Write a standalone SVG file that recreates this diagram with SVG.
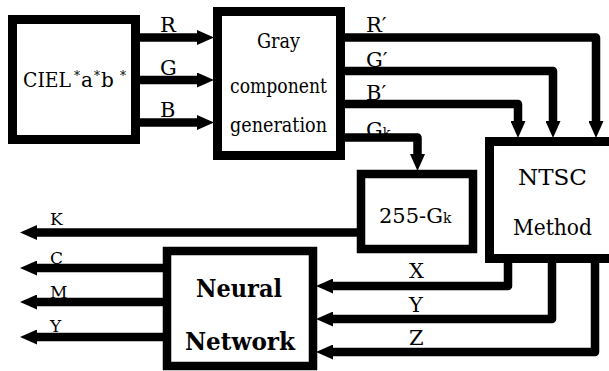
<svg xmlns="http://www.w3.org/2000/svg" width="609" height="371" viewBox="0 0 609 371">
<style>
  .box{fill:#fff;stroke:#000;stroke-width:9}
  text{font-family:'DejaVu Serif',serif;fill:#000}
  .lbl{font-size:21px}
  .sm{font-size:17px}
  .ln{fill:none;stroke:#000;stroke-width:8.5;stroke-linejoin:round;marker-end:url(#ah)}
</style>
<defs>
  <marker id="ah" markerUnits="userSpaceOnUse" markerWidth="17" markerHeight="15" viewBox="0 0 17 15" refX="3" refY="7.5" orient="auto">
    <path d="M0,0 L17,7.5 L0,15 Z" fill="#000"/>
  </marker>
</defs>
<rect width="609" height="371" fill="#fff"/>
<g id="cielab">
  <rect class="box" x="12.5" y="19.5" width="123" height="120"/>
  <text font-family="DejaVu Serif" font-size="20" x="23" y="87" textLength="48" lengthAdjust="spacingAndGlyphs">CIEL</text>
  <text font-family="DejaVu Serif" font-size="12" x="74" y="80">*</text>
  <text font-family="DejaVu Serif" font-size="20" x="81" y="87">a</text>
  <text font-family="DejaVu Serif" font-size="12" x="94" y="80">*</text>
  <text font-family="DejaVu Serif" font-size="20" x="101" y="87">b</text>
  <text font-family="DejaVu Serif" font-size="12" x="120" y="80">*</text>
</g>
<g id="gray">
  <rect class="box" x="217.5" y="11.5" width="123" height="144"/>
  <text font-family="DejaVu Serif" font-size="20" x="257" y="48" textLength="43" lengthAdjust="spacingAndGlyphs">Gray</text>
  <text font-family="DejaVu Serif" font-size="20" x="230" y="93" textLength="97" lengthAdjust="spacingAndGlyphs">component</text>
  <text font-family="DejaVu Serif" font-size="20" x="230" y="132" textLength="97" lengthAdjust="spacingAndGlyphs">generation</text>
</g>
<g id="g255">
  <rect class="box" x="361" y="174" width="112" height="75" style="stroke-width:8.5"/>
  <text font-family="DejaVu Serif" font-size="21" x="379" y="223">255-G<tspan font-size="14">k</tspan></text>
</g>
<g id="ntsc">
  <rect class="box" x="489.5" y="141.5" width="130" height="117"/>
  <text font-family="DejaVu Serif" font-size="23" x="518" y="185" textLength="69" lengthAdjust="spacingAndGlyphs">NTSC</text>
  <text font-family="DejaVu Serif" font-size="23" x="513" y="235" textLength="79" lengthAdjust="spacingAndGlyphs">Method</text>
</g>
<g id="neural">
  <rect class="box" x="167" y="251" width="146" height="115" style="stroke-width:8.5"/>
  <text font-family="DejaVu Serif" font-size="24" font-weight="bold" x="196" y="297" textLength="86" lengthAdjust="spacingAndGlyphs">Neural</text>
  <text font-family="DejaVu Serif" font-size="24" font-weight="bold" x="185" y="350" textLength="110" lengthAdjust="spacingAndGlyphs">Network</text>
</g>
<g id="connectors">
  <text class="lbl" x="160" y="32">R</text>
  <text class="lbl" x="160" y="75">G</text>
  <text class="lbl" x="160" y="117">B</text>
  <text class="lbl" x="366" y="32">R′</text>
  <text class="lbl" x="366" y="67">G′</text>
  <text class="lbl" x="366" y="100">B′</text>
  <text class="lbl" x="366" y="137">G<tspan font-size="13">k</tspan></text>
  <text class="sm" x="50" y="225">K</text>
  <text class="sm" x="50" y="264">C</text>
  <text class="sm" x="50" y="298">M</text>
  <text class="sm" x="50" y="332">Y</text>
  <text class="lbl" x="409" y="278">X</text>
  <text class="lbl" x="409" y="312">Y</text>
  <text class="lbl" x="409" y="345">Z</text>
  <path class="ln" d="M140,37.5 H200"/>
  <path class="ln" d="M140,80 H200"/>
  <path class="ln" d="M140,122.5 H200"/>
  <path class="ln" d="M345,37.5 H596 V124"/>
  <path class="ln" d="M345,71 H553 V124"/>
  <path class="ln" d="M345,104 H518 V124"/>
  <path class="ln" d="M345,137.5 H417.5 V157"/>
  <path class="ln" d="M357,232.5 H34"/>
  <path class="ln" d="M163,268 H34"/>
  <path class="ln" d="M163,302 H34"/>
  <path class="ln" d="M163,337 H34"/>
  <path class="ln" d="M508,263 V286 H330"/>
  <path class="ln" d="M552,263 V319 H330"/>
  <path class="ln" d="M595,263 V352 H330"/>
</g>
</svg>
